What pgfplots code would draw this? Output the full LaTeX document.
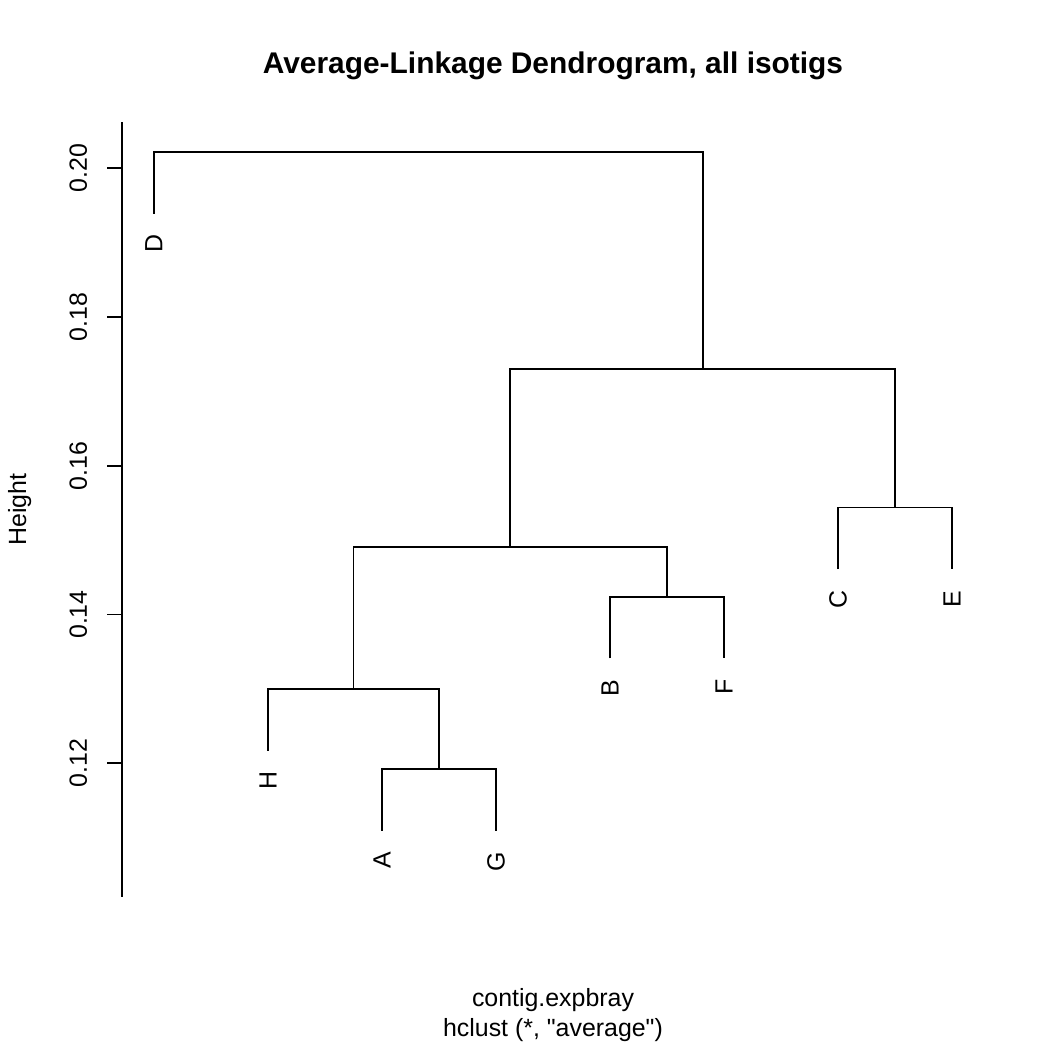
\documentclass[border=0pt]{standalone}
\usepackage{fontspec}
\setmainfont{Liberation Sans}[Ligatures=TeXOff]
\usepackage{pgfplots}
\pgfplotsset{compat=1.18}

% R device: 7in at 150 dpi, so 1 px = 0.48 bp
\newcommand{\rfont}{\fontsize{12}{14.4}\selectfont}

\begin{document}
\begin{tikzpicture}
\path[use as bounding box] (0,0) rectangle (504bp,504bp);
\begin{axis}[
  at={(58.56bp,73.44bp)}, anchor=south west,
  scale only axis, width=413.76bp, height=372bp,
  xmin=0.72, xmax=8.28, ymin=0.10202, ymax=0.20623,
  axis x line=none, axis y line=left,
  axis line style={-, line width=0.9bp, black},
  ytick={0.12,0.14,0.16,0.18,0.20},
  tick align=outside, major tick length=7.2bp,
  ytick style={line width=0.9bp, black},
  yticklabel style={font=\rfont, xshift=-9.6bp, rotate=90, anchor=base},
  /pgf/number format/.cd, fixed, fixed zerofill, precision=2, assume math mode=true,
  /pgfplots/.cd,
  clip=false,
  seg/.style={black, line width=0.9bp, mark=none},
]
% merges: left leg, bar, right leg
\addplot[seg] coordinates {(3,0.1109) (3,0.1192) (4,0.1192) (4,0.1109)};          % A-G
\addplot[seg] coordinates {(2,0.1217) (2,0.1300) (3.5,0.1300) (3.5,0.1192)};      % H-(AG)
\addplot[seg] coordinates {(5,0.1341) (5,0.1424) (6,0.1424) (6,0.1341)};          % B-F
\addplot[seg] coordinates {(2.75,0.1300) (2.75,0.1491) (5.5,0.1491) (5.5,0.1424)};
\addplot[seg] coordinates {(7,0.1461) (7,0.1544) (8,0.1544) (8,0.1461)};          % C-E
\addplot[seg] coordinates {(4.125,0.1491) (4.125,0.1730) (7.5,0.1730) (7.5,0.1544)};
\addplot[seg] coordinates {(1,0.1939) (1,0.2022) (5.8125,0.2022) (5.8125,0.1730)}; % D-rest

% leaf labels
\addplot[draw=none, mark=none, nodes near coords, point meta=explicit symbolic,
  every node near coord/.append style={font=\rfont, black, rotate=90, anchor=east,
    inner xsep=10bp, inner ysep=0pt}]
  coordinates {(1,0.1939)[D] (2,0.1217)[H] (3,0.1109)[A] (4,0.1109)[G]
               (5,0.1341)[B] (6,0.1341)[F] (7,0.1461)[C] (8,0.1461)[E]};
\end{axis}

\node[font=\fontsize{14.4}{17}\selectfont\bfseries, anchor=base] at (265.44bp,468.48bp)
  {Average-Linkage Dendrogram, all isotigs};
\node[font=\rfont, anchor=base] at (265.44bp,21.12bp) {contig.expbray};
\node[font=\rfont, anchor=base] at (265.44bp,6.72bp) {hclust (*, "average")};
\node[font=\rfont, rotate=90, anchor=base] at (12.48bp,259.44bp) {Height};
\end{tikzpicture}
\end{document}
